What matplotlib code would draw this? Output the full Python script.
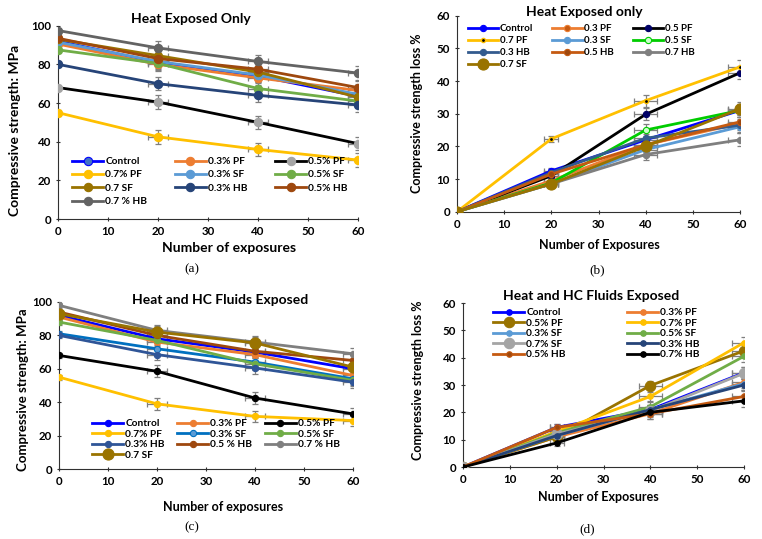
import matplotlib.pyplot as plt

plt.rcParams['font.family'] = ['Lato', 'DejaVu Sans']
plt.rcParams['font.weight'] = 'bold'

# Number of exposures (shared x values)
exposures = [0, 20, 40, 60]

# (a) Heat exposed only - compressive strength, MPa
labels_a = ["Control", "0.3% PF", "0.5% PF", "0.7% PF", "0.3% SF",
            "0.5% SF", "0.7 SF", "0.3% HB", "0.5% HB", "0.7 % HB"]
strength_a = [
    [92, 81, 74, 63.5],
    [90.5, 80, 73, 66.5],
    [68, 60.5, 50, 39],
    [55, 42.5, 36, 30.5],
    [91.5, 81.5, 74.5, 64.5],
    [87.5, 80.5, 67.5, 61],
    [93, 84.5, 76, 63],
    [80, 70, 64, 59],
    [93.5, 83, 77.5, 68],
    [97.5, 88.5, 81.5, 75.5],
]
err_a = [1.5, 3.5, 3.5, 3.5]

# (b) Heat exposed only - strength loss, %
labels_b = ["Control", "0.3 PF", "0.5 PF", "0.7 PF", "0.3 SF",
            "0.5 SF", "0.3 HB", "0.5 HB", "0.7 HB", "0.7 SF"]
loss_b = [
    [0, 12.5, 22, 31],
    [0, 9.5, 20.5, 27],
    [0, 11, 29.8, 42.5],
    [0, 22.3, 34, 44.3],
    [0, 8.5, 19, 26],
    [0, 8.8, 25, 31],
    [0, 12, 22.5, 26.5],
    [0, 11.5, 20.5, 27.5],
    [0, 8.5, 17.5, 22],
    [0, 8.5, 20, 31.5],
]
err_b = [0, 1.0, 1.8, 2.0]

# (c) Heat and HC fluids exposed - compressive strength, MPa
labels_c = ["Control", "0.3% PF", "0.5% PF", "0.7% PF", "0.3% SF",
            "0.5% SF", "0.3% HB", "0.5 % HB", "0.7 % HB", "0.7 SF"]
strength_c = [
    [92, 78, 70, 60],
    [91, 76, 68.5, 56],
    [68, 58.5, 42.5, 33],
    [55, 39, 31.5, 29],
    [81, 72, 64, 54],
    [88, 77, 63, 53],
    [80, 68.5, 60.5, 52],
    [94, 80, 70.5, 65],
    [98, 83, 76, 69],
    [93, 82, 75.5, 61],
]
err_c = [1.5, 3.5, 3.5, 3.5]

# (d) Heat and HC fluids exposed - strength loss, %
labels_d = ["Control", "0.3% PF", "0.5% PF", "0.7% PF", "0.3% SF",
            "0.5% SF", "0.7% SF", "0.3% HB", "0.5% HB", "0.7% HB"]
loss_d = [
    [0, 14.5, 21, 34.5],
    [0, 11, 19.5, 31],
    [0, 11, 29.8, 42.5],
    [0, 13, 25.8, 45.5],
    [0, 11.5, 21, 30.5],
    [0, 12.5, 22, 40.5],
    [0, 12, 20.5, 34.3],
    [0, 11.5, 21, 30],
    [0, 14.5, 19.5, 25.8],
    [0, 8.8, 20, 24.2],
]
err_d = [0, 1.2, 1.8, 2.2]

# styles: (line colour, marker face colour, marker size)
style_a = [("#0000FF", "#4472C4", 6), ("#ED7D31", "#ED7D31", 6), ("#000000", "#A5A5A5", 6),
           ("#FFC000", "#FFC000", 6), ("#5B9BD5", "#5B9BD5", 6), ("#70AD47", "#70AD47", 6),
           ("#997300", "#997300", 6), ("#264478", "#264478", 6), ("#9E480E", "#9E480E", 6),
           ("#636363", "#636363", 6)]
style_b = [("#0000FF", "#0000FF", 4.5), ("#ED7D31", "#C55A11", 4.5), ("#000000", "#000066", 4.5),
           ("#FFC000", "#000000", 3), ("#5B9BD5", "#5B9BD5", 4.5), ("#00CC00", "#CCFFCC", 4.5),
           ("#335B8E", "#335B8E", 4.5), ("#C55A11", "#9E480E", 4.5), ("#7F7F7F", "#7F7F7F", 4.5),
           ("#997300", "#997300", 8)]
style_c = [("#0000FF", "#0000FF", 4.5), ("#ED7D31", "#ED7D31", 4.5), ("#000000", "#000000", 4.5),
           ("#FFC000", "#FFC000", 4.5), ("#0070C0", "#5B9BD5", 4.5), ("#70AD47", "#70AD47", 4.5),
           ("#2F5597", "#2F5597", 4.5), ("#9E480E", "#9E480E", 4.5), ("#7F7F7F", "#7F7F7F", 4.5),
           ("#997300", "#997300", 8)]
style_d = [("#0000FF", "#0000FF", 4), ("#ED7D31", "#ED7D31", 4), ("#997300", "#997300", 7.5),
           ("#FFC000", "#FFC000", 4), ("#5B9BD5", "#5B9BD5", 4), ("#70AD47", "#70AD47", 4),
           ("#A5A5A5", "#A5A5A5", 7.5), ("#264478", "#264478", 4), ("#C55A11", "#9E480E", 4),
           ("#000000", "#000000", 4)]

fig = plt.figure(figsize=(7.62, 5.39), dpi=100)
W, H = 762, 539


def px_axes(left, right, top, bottom):
    return fig.add_axes([left / W, 1 - bottom / H, (right - left) / W, (bottom - top) / H])


def draw(ax, labels, values, styles, err, ymax, xerr):
    for vals in values:
        ax.errorbar(exposures, vals, yerr=err, xerr=xerr, fmt='none', ecolor='#7F7F7F',
                    elinewidth=0.9, capsize=2.5, capthick=0.9, zorder=1)
    for lab, vals, (lc, mc, ms) in zip(labels, values, styles):
        mec = lc if lc != "#000000" else mc
        if lab == "0.7 PF":
            mec = "#FFC000"
        ax.plot(exposures, vals, color=lc, lw=2, marker='o', ms=ms, mfc=mc, mec=mec,
                mew=1 if ms < 4 else 0.8, label=lab, zorder=3)
    ax.set_xlim(0, 60)
    ax.set_ylim(0, ymax)
    ax.set_xticks(range(0, 61, 10))
    ax.spines[['top', 'right']].set_visible(False)
    ax.spines[['left', 'bottom']].set_color('#303030')
    ax.tick_params(labelsize=8.3, length=3, color='#303030', direction='inout')
    for t in ax.get_xticklabels() + ax.get_yticklabels():
        t.set_fontweight('bold')


def row_legend(ax, ncol, top, bottom, left, right, fontsize, spacing):
    # matplotlib fills legend columns first; reorder so entries read row by row
    handles, labs = ax.get_legend_handles_labels()
    n = len(handles)
    order = [i for c in range(ncol) for i in range(c, n, ncol)]
    ax.legend([handles[i] for i in order], [labs[i] for i in order],
              loc='upper left',
              bbox_to_anchor=(left / W, 1 - bottom / H, (right - left) / W, (bottom - top) / H),
              bbox_transform=fig.transFigure, mode='expand', ncol=ncol, frameon=False,
              fontsize=fontsize, handlelength=3.1, handletextpad=0.2, labelspacing=spacing,
              borderpad=0, borderaxespad=0, columnspacing=0.5)


ax_a = px_axes(58, 358, 25.7, 219)
draw(ax_a, labels_a, strength_a, style_a, err_a, 100, [0, 2, 2, 2])
ax_a.set_yticks(range(0, 101, 20))
row_legend(ax_a, 3, 157, 222, 72, 348, 7.3, 0.42)

ax_b = px_axes(457, 740, 15.7, 211.7)
draw(ax_b, labels_b, loss_b, style_b, err_b, 60, [0, 1.5, 2.5, 2.5])
ax_b.set_yticks(range(0, 61, 10))
row_legend(ax_b, 3, 24, 80, 468, 695, 7, 0.32)

ax_c = px_axes(59, 353, 302, 469)
draw(ax_c, labels_c, strength_c, style_c, err_c, 100, [0, 2, 2, 2])
ax_c.set_yticks(range(0, 101, 20))
row_legend(ax_c, 3, 419, 468, 92, 340, 7.3, 0.14)

ax_d = px_axes(463, 744, 303, 467)
draw(ax_d, labels_d, loss_d, style_d, err_d, 60, [0, 1.5, 2.5, 2.5])
ax_d.set_yticks(range(0, 61, 10))
row_legend(ax_d, 2, 308, 371, 493, 700, 7.3, 0.14)


def ftext(x, y, s, **kw):
    fig.text(x / W, 1 - y / H, s, ha='center', va='center', **kw)


ftext(191, 19, "Heat Exposed Only", fontsize=10, fontweight='bold')
ftext(584, 12, "Heat Exposed only", fontsize=10, fontweight='bold')
ftext(220, 300, "Heat and HC Fluids Exposed", fontsize=10, fontweight='bold')
ftext(591, 296, "Heat and HC Fluids Exposed", fontsize=10, fontweight='bold')

ftext(15, 130, "Compressive strength: MPa", fontsize=10, fontweight='bold', rotation=90)
ftext(417, 113, "Compressive strength loss %", fontsize=9, fontweight='bold', rotation=90)
ftext(23, 390, "Compressive strength: MPa", fontsize=9.5, fontweight='bold', rotation=90)
ftext(418, 380, "Compressive strength loss %", fontsize=9, fontweight='bold', rotation=90)

ftext(229, 248, "Number of exposures", fontsize=10, fontweight='bold')
ftext(599, 245, "Number of Exposures", fontsize=9, fontweight='bold')
ftext(223, 507, "Number of exposures", fontsize=9, fontweight='bold')
ftext(598, 497, "Number of Exposures", fontsize=9, fontweight='bold')

serif = dict(fontsize=9.5, family='Liberation Serif', fontweight='normal')
ftext(192, 269, "(a)", **serif)
ftext(597, 270, "(b)", **serif)
ftext(192, 527, "(c)", **serif)
ftext(587, 529, "(d)", **serif)

fig.savefig("out.png", dpi=100)
